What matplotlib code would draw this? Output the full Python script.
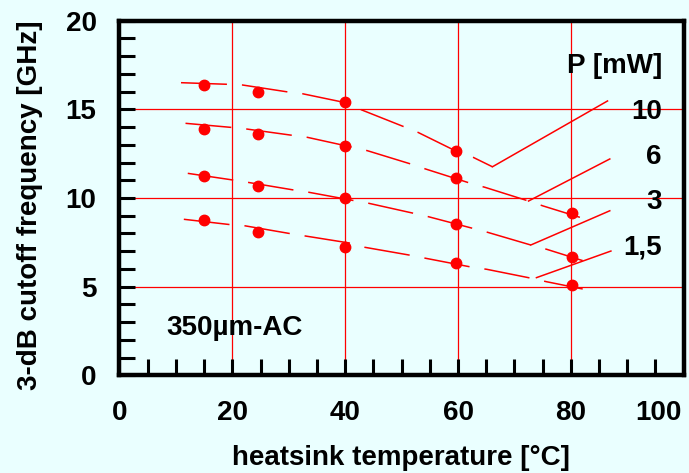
import matplotlib
matplotlib.use("Agg")
import matplotlib.pyplot as plt
import matplotlib.transforms as mtransforms
from matplotlib.ticker import MultipleLocator

# measured points (heatsink temperature, cutoff frequency)
temps = [15, 24.6, 40, 59.7, 80.2]
f_10 = [16.37, 15.96, 15.39, 12.65]
f_6 = [13.89, 13.61, 12.91, 11.14, 9.14]
f_3 = [11.26, 10.69, 10.02, 8.52, 6.69]
f_15 = [8.78, 8.11, 7.25, 6.32, 5.10]

# dashed guide curves
c10_x = [10.9, 19.1, 21.8, 29.8, 32.4, 39.8, 42.8, 50.4, 52.9, 59.6, 62.7, 66.1]
c10_y = [16.5, 16.41, 16.37, 15.98, 15.88, 15.39, 14.98, 14.02, 13.70, 12.65, 12.29, 11.76]
c6_x = [11.7, 19.8, 22.5, 30.7, 33.3, 41.3, 43.9, 51.8, 54.3, 62.2, 64.8, 72.5, 75.1, 81.6]
c6_y = [14.21, 13.98, 13.89, 13.53, 13.42, 12.86, 12.67, 11.90, 11.63, 10.83, 10.60, 9.83, 9.55, 8.91]
c3_x = [12.1, 20.2, 22.8, 30.9, 33.6, 41.6, 44.2, 52.1, 54.7, 62.6, 65.2, 72.9, 75.7, 82.1]
c3_y = [11.39, 11.01, 10.88, 10.45, 10.32, 9.85, 9.70, 9.14, 8.95, 8.29, 8.07, 7.35, 7.11, 6.47]
c15_x = [11.4, 19.6, 22.1, 30.3, 32.9, 41.0, 43.5, 51.6, 54.3, 62.3, 65.1, 73.1, 75.7, 82.1]
c15_y = [8.80, 8.50, 8.44, 7.99, 7.86, 7.45, 7.22, 6.77, 6.60, 6.11, 5.98, 5.47, 5.28, 4.87]

# leader lines from curve to the power label
lead_x = [[66.1, 86.5], [72.5, 86.9], [72.9, 86.9], [73.9, 87.1]]
lead_y = [[11.76, 15.47], [9.83, 12.20], [7.35, 9.28], [5.51, 7.01]]

power_labels = ["10", "6", "3", "1,5"]
label_y = [14.44, 11.92, 9.36, 6.83]

bg = "#EAFFFF"
red = "#FF0000"

plt.rcParams["font.family"] = ["Liberation Sans", "DejaVu Sans"]
plt.rcParams["font.weight"] = "bold"
plt.rcParams["font.size"] = 20
plt.rcParams["lines.scale_dashes"] = False

fig = plt.figure(figsize=(6.89, 4.73), dpi=100, facecolor=bg)
ax = fig.add_axes([119.5 / 689, 1 - 375.4 / 473, 564.2 / 689, 354.8 / 473])
ax.set_facecolor(bg)
ax.set_xlim(0, 100)
ax.set_ylim(0, 20)

ax.set_xticks([0, 20, 40, 60, 80, 100])
ax.set_yticks([0, 5, 10, 15, 20])
ax.xaxis.set_minor_locator(MultipleLocator(5))
ax.yaxis.set_minor_locator(MultipleLocator(1))
ax.tick_params(which="both", direction="in", length=11.5, width=2.2, color="black")
ax.tick_params(axis="x", which="major", pad=17.5, labelsize=20)
ax.tick_params(axis="y", which="major", pad=16.5, labelsize=20)
for sp in ax.spines.values():
    sp.set_linewidth(3.2)
    sp.set_zorder(5)

ax.grid(True, which="major", color=red, linewidth=0.9, zorder=0)
ax.set_axisbelow(True)

# "100" is pulled in so it stays inside the figure
lbl = ax.get_xticklabels()[-1]
lbl.set_transform(lbl.get_transform() + mtransforms.ScaledTranslation(-0.257, 0, fig.dpi_scale_trans))

dash = (0, (33.1, 10.8))
for cx, cy in [(c10_x, c10_y), (c6_x, c6_y), (c3_x, c3_y), (c15_x, c15_y)]:
    ax.plot(cx, cy, color=red, linewidth=1.1, linestyle=dash, zorder=2)

for lx, ly in zip(lead_x, lead_y):
    ax.plot(lx, ly, color=red, linewidth=1.1, zorder=2)

for fs in [f_10, f_6, f_3, f_15]:
    ax.plot(temps[:len(fs)], fs, "o", color=red, markersize=7.5, zorder=3)

ax.text(96.15, 17.03, "P [mW]", ha="right", va="baseline", fontsize=20, fontweight="bold")
for txt, yy in zip(power_labels, label_y):
    ax.text(96.15, yy, txt, ha="right", va="baseline", fontsize=20, fontweight="bold")

ax.text(8.3, 2.28, "350µm-AC", ha="left", va="baseline", fontsize=20, fontweight="bold")

fig.text(400.8 / 689, 1 - 465.3 / 473, "heatsink temperature [°C]",
         ha="center", va="baseline", fontsize=20, fontweight="bold")
fig.text(36.6 / 689, 1 - 205.5 / 473, "3-dB cutoff frequency [GHz]", rotation=90,
         rotation_mode="anchor", ha="center", va="baseline", fontsize=20, fontweight="bold")

fig.savefig("out.png", dpi=100, facecolor=bg)
